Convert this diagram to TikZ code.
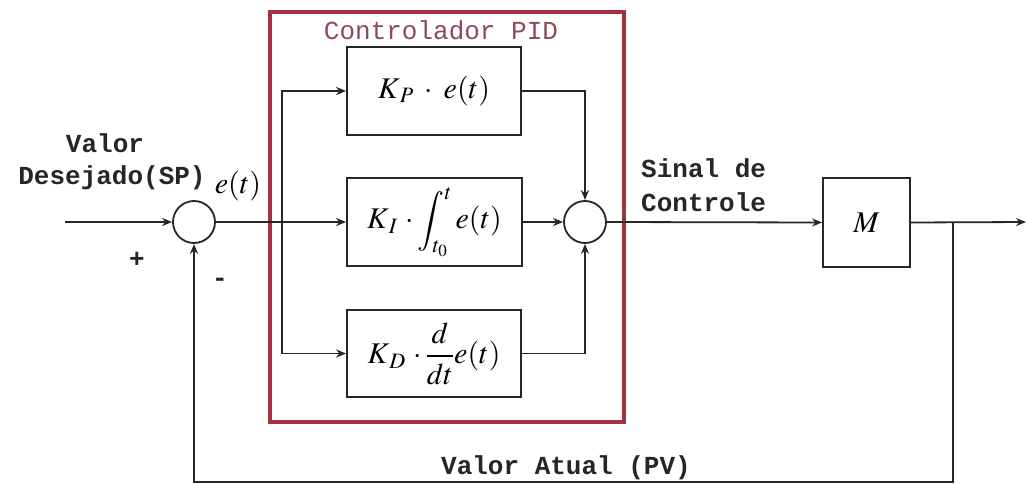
\documentclass[tikz,border=0pt]{standalone}
\usepackage{mathptmx}
\usepackage{fontspec}
\setmonofont{Liberation Mono}
\usepackage{tikz}
\usetikzlibrary{positioning,arrows.meta,calc}
\DeclareMathSizes{30}{30}{22}{17}
\definecolor{pidred}{HTML}{A3313F}
\definecolor{pidtext}{HTML}{8E4A55}
\definecolor{linegray}{HTML}{262626}

\tikzset{
 blk/.style={draw=linegray, line width=1.8pt, fill=white, inner sep=0pt},
 sumnode/.style={draw=linegray, line width=1.8pt, circle, minimum size=42pt, inner sep=0pt},
 sig/.style={draw=linegray, line width=1.8pt},
 sigarrow/.style={sig, -{Stealth[length=10pt,width=8pt]}},
 lbl/.style={font=\fontsize{26}{30}\selectfont\ttfamily\bfseries, text=linegray, inner sep=0pt},
 eq/.style={font=\fontsize{30}{34}\selectfont}
}

\begin{document}
\begin{tikzpicture}[x=1pt, y=-1pt]
 \useasboundingbox (0,0) rectangle (1027,484);
 % controller frame
 \draw[pidred, line width=4pt] (270,12) rectangle (624,422);
 \node[lbl, text=pidtext, font=\fontsize{26}{30}\selectfont\ttfamily] (title) at (441,30) {Controlador PID};

 % blocks
 \node[sumnode] (sum1) at (194,222) {};
 \node[blk, minimum width=174pt, minimum height=88pt, eq] (kp) at (434,91) {$K_{\,P}\;\cdot\;e(t)$};
 \node[blk, minimum width=175pt, minimum height=88pt, eq] (ki) at (434.5,222) {$K_{\,I}\,\cdot\displaystyle\int\nolimits_{t_0}^{t} e(t)$};
 \node[blk, minimum width=174pt, minimum height=87pt, eq] (kd) at (434,353.5) {$K_{\,D}\,\cdot\displaystyle\frac{d}{dt}e(t)$};
 \node[sumnode] (sum2) at (585,222) {};
 \node[blk, minimum width=87pt, minimum height=89pt, eq] (plant) at (866.5,222.5) {$M$};

 \coordinate (input) at (65,222);
 \coordinate (split) at (282,222);
 \coordinate (tap) at (953,222);
 \coordinate (output) at (1026,222);

 % signals
 \draw[sigarrow] (input) -- (sum1.west);
 \draw[sig] (sum1.east) -- (split);
 \draw[sigarrow] (split) -- (ki.west);
 \draw[sigarrow] (split) |- (kp.west);
 \draw[sigarrow] (split) |- (kd.west);
 \draw[sigarrow] (kp.east) -| (sum2.north);
 \draw[sigarrow] (ki.east) -- (sum2.west);
 \draw[sigarrow] (kd.east) -| (sum2.south);
 \draw[sigarrow] (sum2.east) -- (plant.west);
 \draw[sigarrow] (plant.east) -- (output);
 \draw[sigarrow] (tap) -- (tap |- 0,482) -| (sum1.south);

 % labels
 \node[lbl] (sp1) at (105,143) {Valor};
 \node[lbl] (sp2) at (112,178) {Desejado(SP)};
 \node[eq] (err) at (238,186) {$e(t)$};
 \node[lbl] (plus) at (137,260) {+};
 \node[lbl] (minus) at (220,282) {-};
 \node[lbl, anchor=west] (ctl1) at (641,168) {Sinal de};
 \node[lbl, anchor=west] (ctl2) at (641,202) {Controle};
 \node[lbl] (pv) at (566,468) {Valor Atual (PV)};
\end{tikzpicture}
\end{document}
